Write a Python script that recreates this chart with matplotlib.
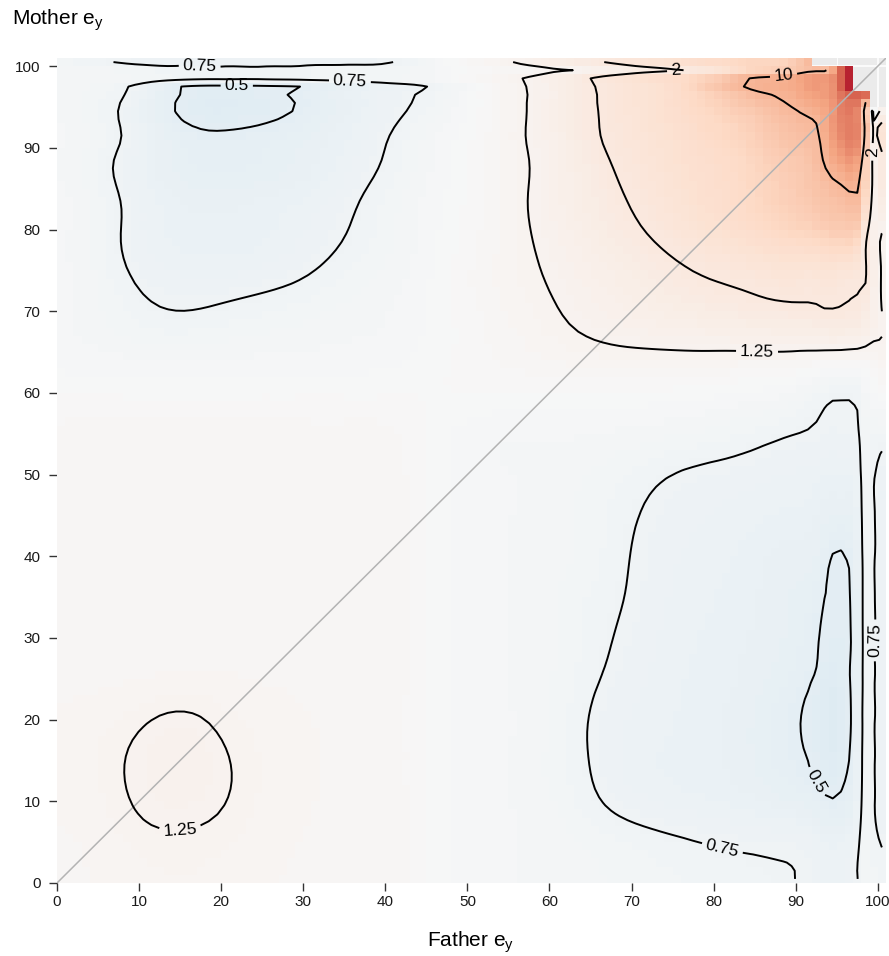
import numpy as np
import matplotlib
matplotlib.use("Agg")
import matplotlib.pyplot as plt
import matplotlib.tri as mtri
from matplotlib.colors import LogNorm
from matplotlib.ticker import MultipleLocator

plt.rcParams["font.family"] = ["Liberation Sans", "DejaVu Sans"]

# Knot positions (father e_y across, mother e_y up) at which the ratio surface is tabulated
father_knots = [0, 5, 10, 15, 20, 25, 30, 35, 40, 45, 50, 55, 60, 65, 70, 75,
                80, 85, 90, 93, 95.5, 96.5, 97.5, 98.5, 99.5, 100.5]
mother_knots = [100.5, 99.5, 98.5, 97.5, 96.5, 95.5, 93, 90, 85, 80, 75, 70, 65,
                60, 55, 50, 45, 40, 35, 30, 25, 20, 15, 10, 5, 0]

# Observed / expected ratio, one list per mother knot (left to right along father knots)
ratio_m100_5 = [0.85, 0.77, 0.72, 0.71, 0.70, 0.70, 0.71, 0.72, 0.735, 0.85, 1.05, 1.22, 1.50, 1.85, 2.30, 2.80, 3.50, 4.50, 6.00, 8.00, 20.0, 100., 100., 30.0, 8.00, 3.00]
ratio_m99_5 = [0.90, 0.86, 0.82, 0.80, 0.79, 0.79, 0.80, 0.81, 0.82, 0.88, 1.00, 1.08, 1.16, 1.35, 1.60, 1.88, 2.40, 4.50, 6.50, 8.50, 60.0, 200., 100., 30.0, 8.00, 3.00]
ratio_m98_5 = [0.90, 0.88, 0.84, 0.80, 0.78, 0.78, 0.80, 0.82, 0.84, 0.88, 1.02, 1.18, 1.45, 2.00, 2.60, 3.50, 5.50, 10.5, 14.0, 20.0, 60.0, 200., 100., 30.0, 8.00, 3.00]
ratio_m97_5 = [0.90, 0.84, 0.70, 0.48, 0.44, 0.45, 0.48, 0.58, 0.66, 0.73, 0.90, 1.15, 1.42, 1.95, 2.50, 3.30, 7.00, 12.0, 14.0, 20.0, 60.0, 200., 80.0, 40.0, 6.00, 3.00]
ratio_m96_5 = [0.92, 0.82, 0.68, 0.46, 0.42, 0.44, 0.50, 0.60, 0.68, 0.76, 0.93, 1.15, 1.40, 1.92, 2.45, 3.20, 5.00, 9.80, 13.0, 18.0, 40.0, 60.0, 60.0, 50.0, 4.00, 2.50]
ratio_m95_5 = [0.92, 0.82, 0.68, 0.47, 0.43, 0.45, 0.51, 0.60, 0.70, 0.79, 0.95, 1.15, 1.45, 1.95, 2.50, 3.20, 4.60, 7.50, 11.0, 15.0, 35.0, 40.0, 40.0, 10.0, 1.40, 1.90]
ratio_m93 = [0.92, 0.82, 0.68, 0.51, 0.48, 0.50, 0.55, 0.62, 0.72, 0.84, 0.97, 1.15, 1.42, 1.90, 2.40, 3.00, 4.00, 5.50, 8.50, 11.0, 30.0, 35.0, 30.0, 7.00, 1.40, 2.10]
ratio_m90 = [0.92, 0.82, 0.68, 0.56, 0.53, 0.55, 0.59, 0.65, 0.75, 0.88, 0.99, 1.15, 1.40, 1.85, 2.30, 2.80, 3.60, 4.80, 7.00, 9.50, 22.0, 28.0, 25.0, 5.50, 1.40, 2.10]
ratio_m85 = [0.92, 0.82, 0.68, 0.60, 0.58, 0.60, 0.63, 0.70, 0.80, 0.90, 1.00, 1.15, 1.38, 1.70, 2.10, 2.60, 3.20, 4.20, 5.80, 7.50, 9.30, 10.5, 10.5, 4.50, 1.40, 1.80]
ratio_m80 = [0.92, 0.83, 0.69, 0.63, 0.62, 0.64, 0.68, 0.74, 0.83, 0.92, 1.02, 1.15, 1.35, 1.60, 1.90, 2.30, 2.80, 3.50, 4.50, 5.20, 5.80, 6.00, 5.50, 2.30, 1.40, 1.30]
ratio_m75 = [0.92, 0.84, 0.72, 0.68, 0.67, 0.69, 0.73, 0.80, 0.86, 0.93, 1.05, 1.15, 1.28, 1.45, 1.65, 1.88, 2.10, 2.30, 2.45, 2.50, 2.45, 2.40, 2.30, 2.05, 1.50, 1.22]
ratio_m70 = [0.92, 0.86, 0.78, 0.745, 0.77, 0.80, 0.83, 0.86, 0.89, 0.95, 1.03, 1.12, 1.22, 1.35, 1.48, 1.60, 1.72, 1.82, 1.90, 1.95, 1.97, 1.95, 1.90, 1.75, 1.45, 1.25]
ratio_m65 = [0.92, 0.90, 0.88, 0.87, 0.88, 0.89, 0.90, 0.91, 0.92, 0.96, 1.02, 1.08, 1.14, 1.19, 1.22, 1.23, 1.23, 1.23, 1.23, 1.22, 1.21, 1.20, 1.19, 1.17, 1.15, 1.20]
ratio_m60 = [0.99, 0.99, 0.99, 0.99, 0.99, 0.99, 0.99, 0.99, 0.99, 1.00, 1.00, 1.00, 1.00, 1.00, 0.99, 0.98, 0.96, 0.93, 0.88, 0.80, 0.77, 0.77, 0.78, 0.90, 0.95, 1.00]
ratio_m55 = [1.08, 1.08, 1.08, 1.08, 1.08, 1.08, 1.08, 1.08, 1.08, 1.00, 0.92, 0.90, 0.90, 0.90, 0.88, 0.86, 0.83, 0.79, 0.75, 0.73, 0.72, 0.72, 0.73, 0.83, 0.80, 0.80]
ratio_m50 = [1.10, 1.10, 1.10, 1.10, 1.10, 1.10, 1.10, 1.10, 1.10, 1.00, 0.92, 0.90, 0.88, 0.85, 0.80, 0.745, 0.72, 0.70, 0.68, 0.66, 0.65, 0.65, 0.68, 0.84, 0.76, 0.70]
ratio_m45 = [1.10, 1.10, 1.10, 1.10, 1.10, 1.10, 1.10, 1.10, 1.10, 1.00, 0.92, 0.90, 0.87, 0.83, 0.76, 0.71, 0.68, 0.66, 0.64, 0.61, 0.58, 0.58, 0.64, 0.84, 0.76, 0.69]
ratio_m40 = [1.10, 1.10, 1.10, 1.10, 1.10, 1.10, 1.10, 1.10, 1.10, 1.00, 0.92, 0.90, 0.87, 0.83, 0.745, 0.69, 0.66, 0.63, 0.60, 0.56, 0.49, 0.51, 0.60, 0.84, 0.76, 0.69]
ratio_m35 = [1.10, 1.10, 1.10, 1.10, 1.10, 1.10, 1.10, 1.10, 1.10, 1.00, 0.92, 0.90, 0.86, 0.80, 0.74, 0.68, 0.65, 0.62, 0.58, 0.52, 0.48, 0.49, 0.58, 0.84, 0.76, 0.69]
ratio_m30 = [1.10, 1.10, 1.10, 1.10, 1.10, 1.10, 1.10, 1.10, 1.10, 1.00, 0.92, 0.90, 0.86, 0.79, 0.72, 0.67, 0.64, 0.61, 0.57, 0.495, 0.47, 0.48, 0.57, 0.84, 0.76, 0.69]
ratio_m25 = [1.10, 1.10, 1.11, 1.12, 1.12, 1.11, 1.10, 1.10, 1.10, 1.00, 0.92, 0.90, 0.86, 0.77, 0.70, 0.66, 0.63, 0.60, 0.54, 0.47, 0.45, 0.49, 0.58, 0.84, 0.76, 0.69]
ratio_m20 = [1.12, 1.15, 1.22, 1.30, 1.21, 1.15, 1.12, 1.11, 1.10, 1.00, 0.92, 0.90, 0.86, 0.74, 0.68, 0.65, 0.62, 0.58, 0.51, 0.44, 0.43, 0.47, 0.60, 0.84, 0.76, 0.69]
ratio_m15 = [1.13, 1.18, 1.30, 1.38, 1.28, 1.17, 1.12, 1.11, 1.10, 1.00, 0.92, 0.90, 0.84, 0.745, 0.67, 0.64, 0.62, 0.58, 0.52, 0.46, 0.45, 0.50, 0.62, 0.84, 0.76, 0.69]
ratio_m10 = [1.12, 1.16, 1.28, 1.33, 1.27, 1.16, 1.12, 1.11, 1.10, 1.00, 0.92, 0.90, 0.86, 0.77, 0.70, 0.67, 0.65, 0.62, 0.58, 0.53, 0.52, 0.55, 0.65, 0.84, 0.76, 0.69]
ratio_m5 = [1.11, 1.13, 1.20, 1.22, 1.19, 1.14, 1.11, 1.10, 1.10, 1.00, 0.92, 0.90, 0.88, 0.84, 0.80, 0.77, 0.745, 0.73, 0.72, 0.66, 0.64, 0.66, 0.72, 0.84, 0.78, 0.74]
ratio_m0 = [1.10, 1.12, 1.15, 1.17, 1.15, 1.12, 1.10, 1.10, 1.10, 1.00, 0.92, 0.90, 0.88, 0.86, 0.83, 0.81, 0.79, 0.77, 0.75, 0.70, 0.68, 0.70, 0.74, 0.82, 0.82, 0.80]

# Cells (father, mother) with no estimate
missing_cells = [(x, 100) for x in range(92, 101)] + \
                [(x, y) for y in (97, 98, 99) for x in range(97, 101)] + \
                [(x, y) for y in (95, 96) for x in (99, 100)]

contour_levels = [0.5, 0.75, 1.25, 2, 10]
contour_texts = ["0.5", "0.75", "1.25", "2", "10"]
label_spots = [(17.4, 100.3), (21.9, 97.4), (35.7, 98.4), (75.4, 99.4), (88.5, 99.0),
               (99.6, 89.5), (85.3, 65.5), (99.6, 29.7), (93.4, 13.0), (81.2, 4.8),
               (15.0, 6.5)]

rows = [ratio_m100_5, ratio_m99_5, ratio_m98_5, ratio_m97_5, ratio_m96_5, ratio_m95_5,
        ratio_m93, ratio_m90, ratio_m85, ratio_m80, ratio_m75, ratio_m70, ratio_m65,
        ratio_m60, ratio_m55, ratio_m50, ratio_m45, ratio_m40, ratio_m35, ratio_m30,
        ratio_m25, ratio_m20, ratio_m15, ratio_m10, ratio_m5, ratio_m0]

# ---- smooth surface on the 101 x 101 cell grid (log scale) ----
xk = np.array(father_knots, float)
yk = np.array(mother_knots, float)[::-1]
logv = np.log10(np.array(rows, float))[::-1]
nx, ny = len(xk), len(yk)
XX, YY = np.meshgrid(xk, yk)
idx = np.arange(nx * ny).reshape(ny, nx)
a = idx[:-1, :-1].ravel()
b = idx[:-1, 1:].ravel()
c = idx[1:, 1:].ravel()
d = idx[1:, :-1].ravel()
triangles = np.concatenate([np.stack([a, b, c], 1), np.stack([a, c, d], 1)])
tri = mtri.Triangulation(XX.ravel(), YY.ravel(), triangles)
interp = mtri.CubicTriInterpolator(tri, logv.ravel(), kind="min_E")

centers = np.arange(101) + 0.5
ev = np.clip(centers, 1e-6, 100.5 - 1e-6)
EX, EY = np.meshgrid(ev, ev)
logf = np.ma.filled(interp(EX, EY), np.nan)

# light binomial smoothing away from the sharp right-hand and top edges
kern = np.array([1, 8, 28, 56, 70, 56, 28, 8, 1], float)
kern /= kern.sum()


def smooth_axis(arr, axis):
    pad = [(4, 4) if k == axis else (0, 0) for k in range(2)]
    p = np.pad(arr, pad, mode="edge")
    n = arr.shape[axis]
    return sum(kern[i] * np.take(p, np.arange(i, i + n), axis=axis) for i in range(9))


logs = smooth_axis(smooth_axis(logf, 0), 1)
wx = np.clip((93.0 - centers) / 5.0, 0, 1)
wy = np.clip((98.0 - centers) / 2.0, 0, 1)
wgt = np.outer(wy, wx)
logf = wgt * logs + (1 - wgt) * logf

field = 10 ** logf
mask = ~np.isfinite(field)
for (fx, my) in missing_cells:
    mask[my, fx] = True
field = np.ma.array(field, mask=mask)

# ---- figure ----
fig = plt.figure(figsize=(8.89, 9.56), dpi=100)
ax = fig.add_axes([57 / 889, 73 / 956, 829 / 889, 825 / 956])

ax.set_facecolor("#ebebeb")
ax.set_axisbelow(True)
ax.xaxis.set_minor_locator(MultipleLocator(5))
ax.yaxis.set_minor_locator(MultipleLocator(5))
ax.grid(which="major", color="white", linewidth=1.1)
ax.grid(which="minor", color="white", linewidth=0.6)

edges = np.arange(102)
ax.pcolormesh(edges, edges, field, cmap="RdBu_r", norm=LogNorm(vmin=1e-3, vmax=1e3),
              shading="flat", zorder=1)

ax.plot([0, 101], [0, 101], color="#b3b3b3", linewidth=1.1, zorder=2)

CX, CY = np.meshgrid(centers, centers)
cs = ax.contour(CX, CY, field, levels=contour_levels, colors="black",
                linewidths=1.4, zorder=3)
labels = ax.clabel(cs, fmt=dict(zip(contour_levels, contour_texts)), manual=label_spots,
                   inline=True, inline_spacing=4, fontsize=12.5, colors="black")
# vertical labels read bottom-to-top
for t in labels:
    r = t.get_rotation() % 360
    if 262 < r < 278:
        t.set_rotation(r - 180)

ax.set_xlim(0, 101)
ax.set_ylim(0, 101)
ax.set_xticks(np.arange(0, 101, 10))
ax.set_yticks(np.arange(0, 101, 10))
for s in ax.spines.values():
    s.set_visible(False)
ax.tick_params(which="major", length=5.8, width=1.0, color="#333333",
               labelsize=11, labelcolor="#1a1a1a")
ax.tick_params(axis="x", which="major", pad=2.5)
ax.tick_params(axis="y", which="major", pad=6)
ax.tick_params(which="minor", length=0)

fig.text(471 / 889, 1 - 942 / 956, r"Father e$_\mathregular{y}$", ha="center",
         va="center", fontsize=15)
fig.text(12 / 889, 1 - 20 / 956, r"Mother e$_\mathregular{y}$", ha="left",
         va="center", fontsize=15)

fig.savefig("out.png", dpi=100)
